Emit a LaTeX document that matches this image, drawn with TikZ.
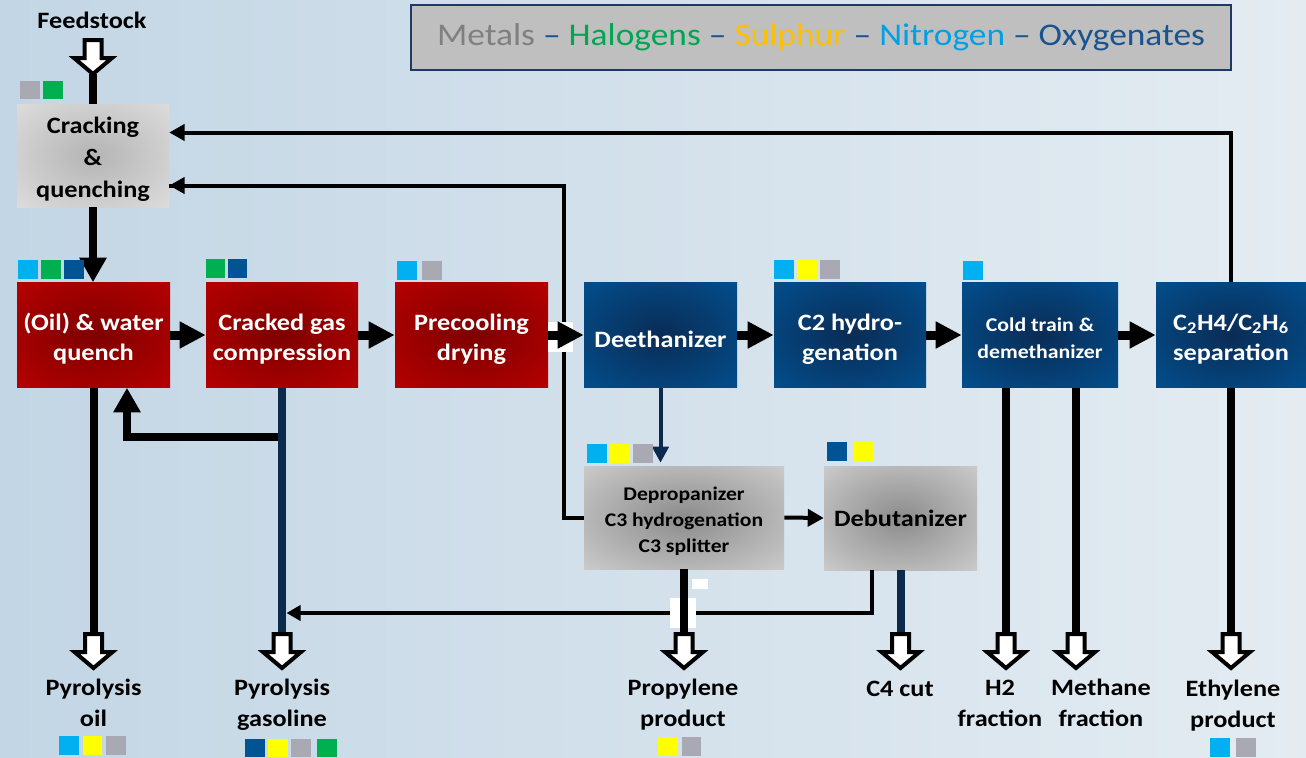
\documentclass[tikz,border=0pt]{standalone}
\usepackage{fontspec}
\setmainfont{Carlito}[FakeStretch=1.12]
\usetikzlibrary{arrows.meta,calc}
\definecolor{bgleft}{HTML}{C3D6E5}
\definecolor{bgright}{HTML}{E4ECF2}
\definecolor{redin}{HTML}{7E0000}
\definecolor{redout}{HTML}{C60000}
\definecolor{bluein}{HTML}{0A2C55}
\definecolor{blueout}{HTML}{00589D}
\definecolor{lgrayin}{HTML}{B4B4B4}
\definecolor{lgrayout}{HTML}{E8E8E8}
\definecolor{grayin}{HTML}{8C8C8C}
\definecolor{grayout}{HTML}{DDDDDD}
\definecolor{navyline}{HTML}{0B2B4C}
\definecolor{qcyan}{HTML}{00B0F0}
\definecolor{qgreen}{HTML}{00B050}
\definecolor{qyellow}{HTML}{FFFF00}
\definecolor{qgray}{HTML}{A8A9B2}
\definecolor{qnavy}{HTML}{005494}
\definecolor{legfill}{HTML}{BFBFBF}
\definecolor{legdraw}{HTML}{1F3864}
\definecolor{tmetal}{HTML}{808080}
\definecolor{thalo}{HTML}{00A651}
\definecolor{tsul}{HTML}{FFC000}
\definecolor{tnit}{HTML}{00A0E6}
\definecolor{toxy}{HTML}{1A5490}
\pgfdeclareradialshading{redglow}{\pgfpoint{0bp}{0bp}}{color(0bp)=(redin); color(46bp)=(redout); color(50bp)=(redout)}
\pgfdeclareradialshading{blueglow}{\pgfpoint{0bp}{0bp}}{color(0bp)=(bluein); color(46bp)=(blueout); color(50bp)=(blueout)}
\pgfdeclareradialshading{grayglow}{\pgfpoint{0bp}{0bp}}{color(0bp)=(grayin); color(46bp)=(grayout); color(50bp)=(grayout)}
\pgfdeclareradialshading{lgrayglow}{\pgfpoint{0bp}{0bp}}{color(0bp)=(lgrayin); color(46bp)=(lgrayout); color(50bp)=(lgrayout)}
\newdimen\pxu \pxu=0.75pt
\newcommand\hollowarr[5]{%
  \draw[hollow] ({#2-8.5},#3) -- ({#2+8.5},#3) -- ({#2+8.5},#4) -- ({#2+19},#4) -- (#2,#5) -- ({#2-19},#4) -- ({#2-8.5},#4) -- cycle;
  \coordinate (#1) at (#2,#3);
  \coordinate (#1tip) at (#2,#5);}
\newcommand\sqr[4]{\fill[#1] (#2,#3) rectangle ++(19.5,#4);}
\newcommand\boxstrut[1]{\rule{0pt}{#1}}
\tikzset{
  unitbox/.style={inner sep=0pt, align=center, font=\fontsize{17.6}{22.5}\selectfont\bfseries},
  redbox/.style={unitbox, shading=redglow, text=white, minimum height=105*\pxu},
  bluebox/.style={unitbox, shading=blueglow, text=white, minimum height=105*\pxu},
  graybox/.style={unitbox, shading=grayglow, text=black},
  lgraybox/.style={unitbox, shading=lgrayglow, text=black},
  lbl/.style={align=center, inner sep=0pt, font=\fontsize{17.6}{23.25}\selectfont\bfseries},
  thickline/.style={line width=6pt},
  thinline/.style={line width=3pt},
  bigarrow/.style={line width=6.75pt, -{Triangle[length=19.5pt,width=19pt]}},
  thickarrow/.style={line width=6pt, -{Triangle[length=18.5pt,width=19.5pt]}},
  thinarrow/.style={line width=3pt, -{Triangle[length=11.5pt,width=12pt]}},
  hollow/.style={draw=black, fill=white, line width=3pt, miter limit=10},
}
\begin{document}
\begin{tikzpicture}[x=0.75pt,y=-0.75pt]
\useasboundingbox (0,0) rectangle (1306,757);
\shade[left color=bgleft,right color=bgright] (0,0) rectangle (1306,757);

% legend
\node[draw=legdraw, line width=2pt, fill=legfill, minimum width=820*\pxu, minimum height=65*\pxu, inner sep=0pt,
  font=\fontsize{23.7}{28}\selectfont] (legend) at (821,37.5)
  {\textcolor{tmetal}{Metals} \textcolor{toxy}{\textendash} \textcolor{thalo}{Halogens} \textcolor{toxy}{\textendash} \textcolor{tsul}{Sulphur} \textcolor{toxy}{\textendash} \textcolor{tnit}{Nitrogen} \textcolor{toxy}{\textendash} \textcolor{toxy}{Oxygenates}\hspace{6.5pt}};

% units
\node[lgraybox, minimum width=152*\pxu, minimum height=103*\pxu, font=\fontsize{17.6}{24}\selectfont\bfseries] (crack) at (93,155.5) {\boxstrut{18pt}Cracking\\\&\\quenching};
\node[redbox, minimum width=153*\pxu] (quench) at (93.5,335) {\boxstrut{18.8pt}(Oil) \& water\\quench};
\node[redbox, minimum width=152*\pxu] (comp) at (282,335) {\boxstrut{18.5pt}Cracked gas\\compression};
\node[redbox, minimum width=153*\pxu] (precool) at (471.5,335) {\boxstrut{18.5pt}Precooling\\drying};
\node[bluebox, minimum width=153*\pxu] (deeth) at (660.5,335) {\boxstrut{18.5pt}Deethanizer};
\node[bluebox, minimum width=152*\pxu] (c2h) at (850,335) {\boxstrut{18.5pt}C2 hydro-\\genation};
\node[bluebox, minimum width=156*\pxu, font=\fontsize{14.6}{20}\selectfont\bfseries] (cold) at (1040,335) {\boxstrut{15.5pt}Cold train \&\\demethanizer};
\node[bluebox, minimum width=150*\pxu] (sep) at (1231,335) {\boxstrut{18.5pt}C\textsubscript{2}H4/C\textsubscript{2}H\textsubscript{6}\\separation};
\node[graybox, minimum width=200*\pxu, minimum height=103*\pxu, font=\fontsize{14.5}{19.5}\selectfont\bfseries] (deprop) at (684,517.5) {\boxstrut{15.4pt}Depropanizer\\C3 hydrogenation\\C3 splitter};
\node[graybox, minimum width=153*\pxu, minimum height=104*\pxu] (debut) at (900.5,518) {Debutanizer};

% feedstock
\node[lbl] (feed) at (92,20) {Feedstock};
\draw[thickline] (crack.north) -- ++(0,-30);
\hollowarr{afeed}{93}{40}{58}{74}

% main train arrows
\draw[bigarrow] (quench.east) -- (comp.west);
\draw[bigarrow] (comp.east) -- (precool.west);
\draw[thinline] (deprop.west) -- ++(-20,0) coordinate (rc) |- ($(crack.east)+(0,30)$);
\draw[thinline, -{Triangle[length=11.5pt,width=12pt]}] ($(crack.east)+(21,30)$) -- ($(crack.east)+(0,30)$);
\fill[white] (548,322) rectangle (573,352);
\draw[bigarrow] (precool.east) -- (deeth.west);
\draw[bigarrow] (deeth.east) -- (c2h.west);
\draw[bigarrow] (c2h.east) -- (cold.west);
\draw[bigarrow] (cold.east) -- (sep.west);

% recycle from ethane
\draw[thinarrow] (sep.north) |- ($(crack.east)+(0,-23)$);

% cracking to quench
\draw[thickarrow] (crack.south) -- (crack.south |- quench.north);

% quench recycle
\coordinate (gjoin) at (282,437);
\draw[thickarrow] (gjoin) -| ($(quench.south)+(33.5,0)$);

% deethanizer bottoms
\draw[thinline, navyline, -{Triangle[length=12pt,width=12pt]}] (deeth.south) -- ($(deeth.south |- deprop.north)+(0,-3)$);
\draw[thinline, -{Triangle[length=12pt,width=12.75pt]}] (deprop.east) -- (debut.west);

% debutanizer bottoms to gasoline
\coordinate (gasin) at (286.5,613);
\draw[thinline, -{Triangle[length=10.5pt,width=11.25pt]}] ($(debut.south)+(-29,0)$) |- (gasin);
\fill[white] (670,598) rectangle (696,628);
\fill[white] (692,579) rectangle (708,589);

% product lines
\draw[thickline] (quench.south) -- (93.5,634);
\draw[thickline, navyline] (comp.south) -- (282,634);
\draw[thickline] (deprop.south) -- (684,634);
\draw[thickline, navyline] (debut.south) -- (900.5,634);
\draw[thickline] ($(cold.south)+(-34,0)$) -- (1006,634);
\draw[thickline] ($(cold.south)+(36,0)$) -- (1076,634);
\draw[thickline] (sep.south) -- (1231,634);

\hollowarr{aoil}{93.5}{634}{652}{668}
\hollowarr{agas}{282}{634}{652}{668}
\hollowarr{aprop}{684}{634}{652}{668}
\hollowarr{ac4}{900.5}{634}{652}{668}
\hollowarr{ah2}{1006}{634}{652}{668}
\hollowarr{ach4}{1076}{634}{652}{668}
\hollowarr{aeth}{1231}{634}{652}{668}

% product labels
\node[lbl] (loil) at (93.5,703) {Pyrolysis\\oil};
\node[lbl] (lgas) at (282,705) {Pyrolysis\\gasoline};
\node[lbl] (lprop) at (683,705) {Propylene\\product};
\node[lbl] (lc4) at (900,688.5) {C4 cut};
\node[lbl] (lh2) at (1000,703) {H2\\fraction};
\node[lbl] (lch4) at (1101,703) {Methane\\fraction};
\node[lbl] (leth) at (1233,705.5) {Ethylene\\product};

% contaminant squares
\sqr{qgray}{20}{81}{18}\sqr{qgreen}{43}{81}{18}
\sqr{qcyan}{18}{259.5}{19}\sqr{qgreen}{41}{259.5}{19}\sqr{qnavy}{64}{259.5}{19}
\sqr{qgreen}{205.5}{259}{19}\sqr{qnavy}{227.5}{259}{19}
\sqr{qcyan}{397}{261}{18.5}\sqr{qgray}{422}{261}{18.5}
\sqr{qcyan}{774}{259.5}{19}\sqr{qyellow}{797}{259.5}{19}\sqr{qgray}{820}{259.5}{19}
\sqr{qcyan}{963}{261}{19}
\sqr{qcyan}{587}{444}{19}\sqr{qyellow}{610}{444}{19}\sqr{qgray}{633}{444}{19}
\sqr{qnavy}{827}{442}{19}\sqr{qyellow}{853}{442}{19}
\sqr{qcyan}{59}{735.5}{19}\sqr{qyellow}{82.5}{735.5}{19}\sqr{qgray}{106}{735.5}{19}
\sqr{qnavy}{245}{739}{18}\sqr{qyellow}{268}{739}{18}\sqr{qgray}{291}{739}{18}\sqr{qgreen}{317}{739}{18}
\sqr{qyellow}{658}{737}{19}\sqr{qgray}{681.5}{737}{19}
\sqr{qcyan}{1210}{738}{19}\sqr{qgray}{1236}{738}{19}
\end{tikzpicture}
\end{document}
